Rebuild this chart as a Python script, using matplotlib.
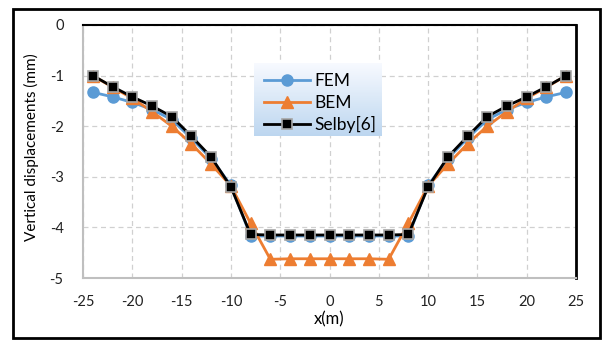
import matplotlib
matplotlib.use("Agg")
import matplotlib.pyplot as plt
import numpy as np
from matplotlib.patches import Rectangle

plt.rcParams['font.family'] = ['Lato', 'DejaVu Sans']

x = [-24, -22, -20, -18, -16, -14, -12, -10, -8, -6, -4, -2, 0, 2, 4, 6, 8, 10, 12, 14, 16, 18, 20, 22, 24]
fem = [-1.33, -1.42, -1.53, -1.67, -1.87, -2.24, -2.64, -3.17, -4.17, -4.17, -4.17, -4.17, -4.17, -4.17, -4.17, -4.17, -4.17, -3.17, -2.64, -2.24, -1.87, -1.67, -1.53, -1.42, -1.33]
bem = [-1.0, -1.23, -1.45, -1.71, -2.0, -2.35, -2.75, -3.18, -3.92, -4.63, -4.62, -4.62, -4.62, -4.62, -4.62, -4.63, -3.92, -3.18, -2.75, -2.35, -2.0, -1.71, -1.45, -1.23, -1.0]
selby = [-1.0, -1.22, -1.42, -1.60, -1.81, -2.20, -2.61, -3.20, -4.14, -4.15, -4.15, -4.15, -4.15, -4.15, -4.15, -4.15, -4.14, -3.20, -2.61, -2.20, -1.81, -1.60, -1.42, -1.22, -1.0]
labels = ['FEM', 'BEM', 'Selby[6]']
xticks = [-25, -20, -15, -10, -5, 0, 5, 10, 15, 20, 25]
yticks = [0, -1, -2, -3, -4, -5]

W, H = 603, 340
fig = plt.figure(figsize=(W/100, H/100), dpi=100)
ax = fig.add_axes([83/W, 1-278/H, (576-83)/W, (278-25)/H])

ax.plot(x, fem, color='#5B9BD5', lw=2, marker='o', ms=8, mec='#5B9BD5', label=labels[0], zorder=3)
ax.plot(x, bem, color='#ED7D31', lw=2, marker='^', ms=8, mec='#ED7D31', label=labels[1], zorder=4)
ax.plot(x, selby, color='black', lw=2, marker='s', ms=6.5, mfc='black', mec='#a6a6a6', mew=1.2, label=labels[2], zorder=5)

ax.set_xlim(-25, 25)
ax.set_ylim(-5, 0)
ax.set_xticks(xticks)
ax.set_yticks(yticks)
ax.set_xticklabels([str(v) for v in xticks])
ax.set_yticklabels([str(v) for v in yticks])
ax.tick_params(length=0, labelsize=10.5, colors='#222222')
ax.tick_params(axis='x', pad=12)
ax.tick_params(axis='y', pad=14)
ax.grid(True, ls=(0, (4, 3)), color='#d0d0d0', lw=0.9)
ax.set_axisbelow(True)
ax.spines['left'].set_color('#bfbfbf')
ax.spines['bottom'].set_color('#bfbfbf')
ax.spines['left'].set_linewidth(1.5)
ax.spines['bottom'].set_linewidth(1.5)
ax.spines['top'].set_color('black')
ax.spines['right'].set_color('black')
ax.spines['top'].set_linewidth(1.5)
ax.spines['right'].set_linewidth(2)

ax.set_xlabel('x(m)', fontsize=12, labelpad=2)
ax.set_ylabel('Vertical displacements (mm)', fontsize=11)
ax.yaxis.set_label_coords((39-83)/493, (278-147)/253)

# legend with gradient background
lx0, ly0, lx1, ly1 = 254, 63, 382, 136
lax = fig.add_axes([lx0/W, 1-ly1/H, (lx1-lx0)/W, (ly1-ly0)/H], zorder=6)
grad = np.linspace(0, 1, 100).reshape(-1, 1)
c_top = np.array([0.97, 0.98, 1.0])
c_bot = np.array([0.74, 0.84, 0.94])
img = c_top[None, None, :] * (1-grad[:, :, None]) + c_bot[None, None, :] * grad[:, :, None]
lax.imshow(img, aspect='auto', extent=[0, 1, 0, 1])
lax.axis('off')
h, l = ax.get_legend_handles_labels()
leg = fig.legend(h, l, loc='upper left', bbox_to_anchor=(lx0/W, 1-ly0/H), frameon=False,
                 fontsize=12.5, handlelength=2.6, labelspacing=0.3, borderaxespad=0.2, handletextpad=0.3,
                 borderpad=0.4)
leg.set_zorder(7)

fig.patches.append(Rectangle((13/W, 1-338/H), (600-13)/W, (338-9)/H, transform=fig.transFigure,
                             fill=False, edgecolor='black', lw=2))

fig.savefig('out.png', dpi=100)
